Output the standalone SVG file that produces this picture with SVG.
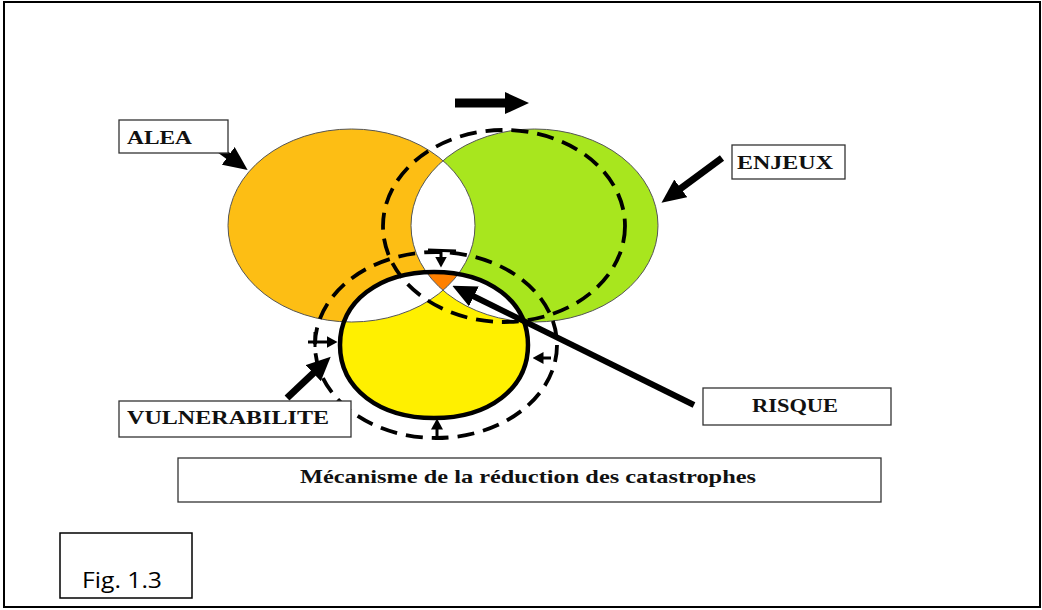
<svg xmlns="http://www.w3.org/2000/svg" width="1042" height="610" viewBox="0 0 1042 610">
<style>
.lbl{fill:#fff;stroke:#333;stroke-width:1.3}
.t{font-family:"Liberation Serif",serif;font-weight:bold;font-size:19px;fill:#111}
.ell{fill:none;stroke:#555;stroke-width:1}
.dash{fill:none;stroke:#000;stroke-width:3.8;stroke-dasharray:17 9}
.big{stroke:#000;stroke-width:7;fill:none;marker-end:url(#head)}
.sm{stroke:#000;stroke-width:3;fill:none;marker-end:url(#shead)}
.bar{stroke:#000;stroke-width:3;fill:none}
</style>
<defs>
<path id="yel" d="M340,345 C340,301.2 379.5,272 434,272 C488.5,272 528,301.2 528,345 C528,388.8 488.5,418 434,418 C379.5,418 340,388.8 340,345 Z"/>
<clipPath id="cA"><ellipse cx="351.5" cy="225.5" rx="123.5" ry="96.5"/></clipPath>
<clipPath id="cB"><ellipse cx="534.5" cy="225.5" rx="123.5" ry="96.5"/></clipPath>
<marker id="head" markerUnits="userSpaceOnUse" markerWidth="24" markerHeight="22" viewBox="0 0 24 22" refX="1" refY="11" orient="auto"><path d="M0,0 L24,11 L0,22 Z" fill="#000"/></marker>
<marker id="shead" markerUnits="userSpaceOnUse" markerWidth="11" markerHeight="12" viewBox="0 0 11 12" refX="0.5" refY="6" orient="auto"><path d="M0,0 L11,6 L0,12 Z" fill="#000"/></marker>
</defs>
<rect x="4" y="2" width="1036" height="605" fill="#fff" stroke="#000" stroke-width="2"/>

<g id="alea"><ellipse cx="351.5" cy="225.5" rx="123.5" ry="96.5" fill="#FDBE14"/></g>
<g id="enjeux"><ellipse cx="534.5" cy="225.5" rx="123.5" ry="96.5" fill="#A8E61E"/></g>
<g id="vulnerabilite"><use href="#yel" fill="#FFF000"/></g>
<g id="overlaps">
<ellipse cx="534.5" cy="225.5" rx="123.5" ry="96.5" fill="#fff" clip-path="url(#cA)"/>
<use href="#yel" fill="#fff" clip-path="url(#cA)"/>
<use href="#yel" fill="#fff" clip-path="url(#cB)"/>
<g id="risque-zone" clip-path="url(#cA)"><use href="#yel" fill="#FF8000" clip-path="url(#cB)"/></g>
</g>
<g id="outlines">
<ellipse class="ell" cx="351.5" cy="225.5" rx="123.5" ry="96.5"/>
<ellipse class="ell" cx="534.5" cy="225.5" rx="123.5" ry="96.5"/>
</g>
<g id="dashed">
<ellipse class="dash" cx="504" cy="226" rx="121" ry="96"/>
<ellipse class="dash" cx="436" cy="345" rx="121" ry="93"/>
</g>
<use href="#yel" fill="none" stroke="#000" stroke-width="4.5"/>

<g id="connectors">
<line class="big" x1="455" y1="103" x2="506" y2="103" style="stroke-width:9"/>
<line class="big" x1="209" y1="142" x2="229" y2="156.5"/>
<line class="big" x1="722" y1="158" x2="680" y2="189"/>
<line class="big" x1="287" y1="398" x2="314" y2="372.5"/>
<line class="big" x1="694" y1="405" x2="473" y2="296" style="stroke-width:6"/>
<line class="bar" x1="428" y1="250" x2="456" y2="251"/>
<line class="sm" x1="441" y1="250" x2="441" y2="257"/>
<line class="bar" x1="315" y1="332" x2="315" y2="347"/>
<line class="sm" x1="308" y1="342" x2="327" y2="342"/>
<line class="sm" x1="551" y1="358" x2="543" y2="358"/>
<line class="sm" x1="437" y1="440" x2="437" y2="429"/>
</g>

<g id="label-alea"><rect class="lbl" x="119" y="120" width="109" height="33"/><text class="t" x="127" y="144" textLength="65" lengthAdjust="spacingAndGlyphs">ALEA</text></g>
<g id="label-enjeux"><rect class="lbl" x="732" y="145" width="113" height="34"/><text class="t" x="737" y="169" textLength="96" lengthAdjust="spacingAndGlyphs">ENJEUX</text></g>
<g id="label-vulnerabilite"><rect class="lbl" x="119" y="401" width="232" height="36"/><text class="t" x="127" y="424" textLength="202" lengthAdjust="spacingAndGlyphs">VULNERABILITE</text></g>
<g id="label-risque"><rect class="lbl" x="703" y="388" width="188" height="37"/><text class="t" x="752" y="412" style="font-size:18px" textLength="86" lengthAdjust="spacingAndGlyphs">RISQUE</text></g>
<g id="caption"><rect class="lbl" x="178" y="458" width="703" height="44"/><text class="t" x="300" y="483" textLength="456" lengthAdjust="spacingAndGlyphs">Mécanisme de la réduction des catastrophes</text></g>
<g id="fig"><rect x="60" y="533" width="132" height="65" fill="#fff" stroke="#000" stroke-width="1.5"/><text x="82" y="588" font-family="'Open Sans',sans-serif" font-size="22" fill="#000" textLength="80" lengthAdjust="spacingAndGlyphs">Fig. 1.3</text></g>
</svg>
